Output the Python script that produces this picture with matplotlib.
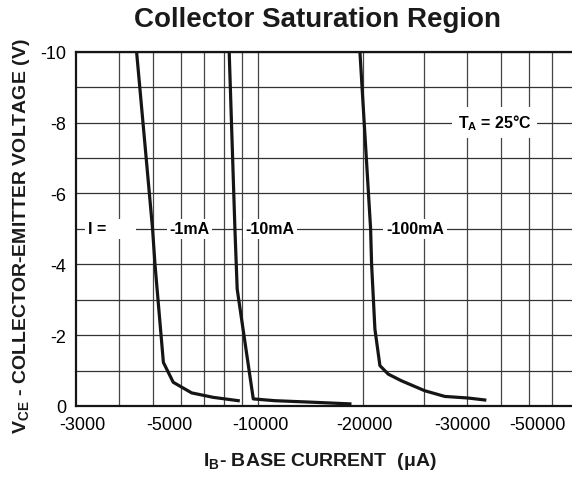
import matplotlib
matplotlib.use("Agg")
import matplotlib.pyplot as plt
from matplotlib.ticker import FixedLocator, MultipleLocator, NullFormatter

plt.rcParams['font.family'] = ['Liberation Sans', 'DejaVu Sans']
plt.rcParams['mathtext.fontset'] = 'custom'
plt.rcParams['mathtext.rm'] = 'Liberation Sans:bold'
plt.rcParams['mathtext.bf'] = 'Liberation Sans:bold'

# base current magnitude (uA) vs collector-emitter voltage (V)
ib_1ma = [4480, 4980, 5060, 5350, 5710, 6450, 7430, 8780]
vce_1ma = [-10, -5, -4, -1.23, -0.67, -0.37, -0.245, -0.15]

ib_10ma = [8270, 8590, 8720, 9700, 11190, 14100, 18390]
vce_10ma = [-10, -5, -3.3, -0.2, -0.15, -0.11, -0.06]

ib_100ma = [19650, 21090, 21230, 21700, 22430, 23700, 25890, 30200, 34470, 40240, 44900]
vce_100ma = [-10, -5, -4, -2.17, -1.14, -0.9, -0.71, -0.43, -0.27, -0.225, -0.17]

# grid lines and (offset) tick labels as printed on the datasheet
grid_x = [4000, 5000, 6000, 7000, 8000, 9000, 10000, 20000, 30000, 40000, 50000, 60000, 70000]
xtick_pos = [3120, 5550, 10140, 20300, 38800, 63800]
xtick_lab = ['-3000', '-5000', '-10000', '-20000', '-30000', '-50000']
ytick_pos = [-10, -8, -6, -4, -2, 0]

fig = plt.figure(figsize=(5.72, 4.81), dpi=100)
ax = fig.add_axes([76/572, 1 - 407/481, 1 - 76/572, (407 - 52.7)/481])

for x, y in [(ib_1ma, vce_1ma), (ib_10ma, vce_10ma), (ib_100ma, vce_100ma)]:
    ax.plot(x, y, color='#151515', lw=2.3, solid_joinstyle='round', zorder=3)

ax.set_xscale('log')
ax.set_xlim(3000, 80000)
ax.set_ylim(0, -10)

ax.xaxis.set_major_locator(FixedLocator(xtick_pos))
ax.set_xticklabels(xtick_lab)
ax.xaxis.set_minor_locator(FixedLocator(grid_x))
ax.xaxis.set_minor_formatter(NullFormatter())
ax.set_yticks(ytick_pos)
ax.set_yticklabels([str(v) for v in ytick_pos])
ax.yaxis.set_minor_locator(MultipleLocator(1))

ax.tick_params(which='both', length=0)
ax.tick_params(axis='x', pad=7, labelsize=13)
ax.tick_params(axis='y', pad=7, labelsize=13)

ax.grid(False)
ax.grid(True, which='minor', axis='x', color='#444444', lw=0.9)
ax.grid(True, which='both', axis='y', color='#333333', lw=0.9)

ax.spines['right'].set_visible(False)
for s in ['top', 'left', 'bottom']:
    ax.spines[s].set_linewidth(1.6)
    ax.spines[s].set_color('#151515')

box = dict(facecolor='white', edgecolor='none', pad=2)
ax.text(3243, -5, 'I =      ', fontsize=11.5, fontweight='bold', ha='left', va='center', bbox=box, zorder=4)
ax.text(6357, -5, '-1mA', fontsize=11.5, fontweight='bold', ha='center', va='center', bbox=box, zorder=4)
ax.text(10830, -5, '-10mA', fontsize=11.5, fontweight='bold', ha='center', va='center', bbox=box, zorder=4)
ax.text(28270, -5, '-100mA', fontsize=11.5, fontweight='bold', ha='center', va='center', bbox=box, zorder=4)
ax.text(47900, -8, r'T$_\mathbf{A}$ = 25°C', fontsize=11.5, fontweight='bold', ha='center', va='center',
        bbox=dict(facecolor='white', edgecolor='none', pad=4), zorder=4)

fig.text(318/572, 1 - 20/481, 'Collector Saturation Region', fontsize=20, fontweight='bold',
         ha='center', va='center', color='#1a1a1a')
fig.text(320/572, 1 - 462/481, r'I$_\mathbf{B}$- BASE CURRENT  (μA)', fontsize=14, fontweight='bold',
         ha='center', va='center', color='#1a1a1a')
fig.text(22/572, 1 - 236/481, r'V$_\mathbf{CE}$ - COLLECTOR-EMITTER VOLTAGE (V)', fontsize=14,
         fontweight='bold', rotation=90, ha='center', va='center', color='#1a1a1a')

fig.savefig('out.png', dpi=100)
